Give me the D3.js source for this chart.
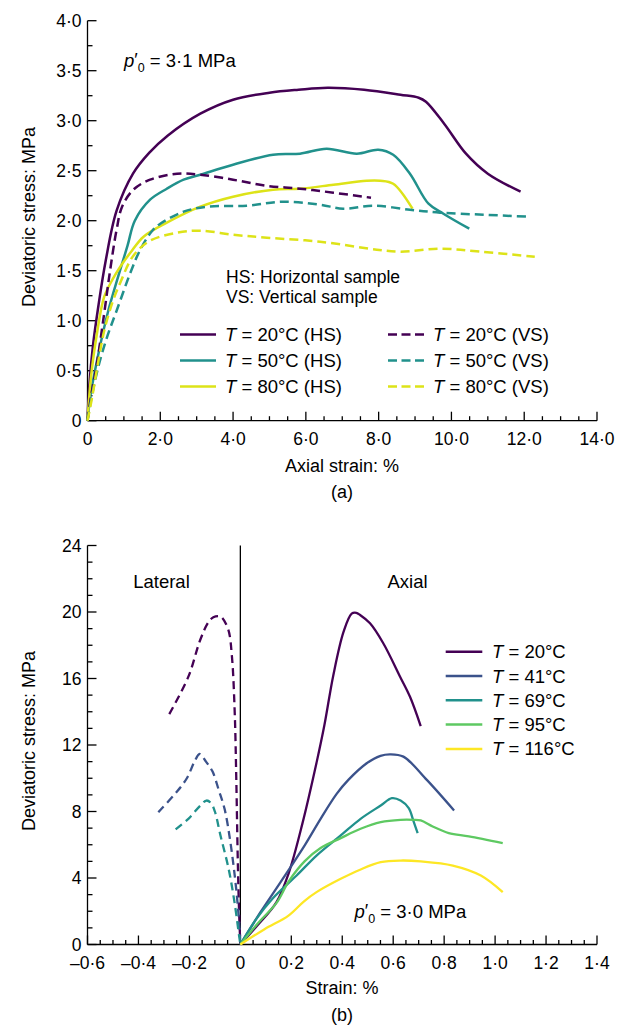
<!DOCTYPE html>
<html>
<head>
<meta charset="utf-8">
<script src="https://cdn.jsdelivr.net/npm/d3@7"></script>
<style>
  html, body { margin: 0; padding: 0; background: #fff; }
  svg { display: block; font-family: "Liberation Sans", Arial, Helvetica, sans-serif; }
</style>
</head>
<body>
<svg id="chart" width="629" height="1028"></svg>
<script>
// ---- Panel (a): deviatoric stress vs axial strain, p'0 = 3.1 MPa ----
const aXTicks = [0, 2, 4, 6, 8, 10, 12, 14];
const aYTicks = [0, 0.5, 1, 1.5, 2, 2.5, 3, 3.5, 4];

const hs20 = [[0,0],[0.05,0.35],[0.15,0.75],[0.3,1.15],[0.5,1.6],[0.8,2.1],[1.25,2.47],[1.7,2.68],[2.2,2.85],[3.1,3.07],[4.0,3.21],[5.0,3.28],[5.8,3.31],[6.6,3.33],[7.6,3.31],[8.6,3.26],[9.1,3.23],[9.3,3.19],[9.8,2.97],[10.4,2.67],[11.0,2.47],[11.9,2.29]];
const hs50 = [[0,0],[0.08,0.25],[0.3,0.67],[0.55,1.07],[0.85,1.45],[1.1,1.75],[1.3,2.0],[1.72,2.21],[2.18,2.32],[2.64,2.41],[3.1,2.46],[4.0,2.56],[5.1,2.66],[5.84,2.67],[6.57,2.72],[7.4,2.67],[7.99,2.71],[8.4,2.66],[8.86,2.47],[9.37,2.17],[9.78,2.07],[10.49,1.92]];
const hs80 = [[0,0],[0.04,0.2],[0.1,0.45],[0.25,0.85],[0.46,1.24],[0.7,1.42],[0.9,1.54],[1.22,1.7],[1.54,1.84],[2.18,1.98],[3.1,2.14],[4.0,2.24],[5.1,2.31],[5.84,2.32],[6.76,2.36],[7.67,2.40],[8.04,2.40],[8.4,2.37],[8.93,2.12]];
const vs20 = [[0,0],[0.1,0.25],[0.25,0.55],[0.45,1.05],[0.62,1.5],[0.8,1.91],[0.95,2.14],[1.26,2.31],[1.72,2.41],[2.46,2.47],[3.1,2.46],[4.0,2.41],[4.9,2.35],[5.84,2.32],[6.76,2.28],[7.79,2.23]];
const vs50 = [[0,0],[0.12,0.25],[0.32,0.57],[0.55,0.85],[0.8,1.1],[1.2,1.5],[1.45,1.71],[1.78,1.9],[2.0,1.97],[2.64,2.09],[3.28,2.14],[4.38,2.15],[5.38,2.19],[6.39,2.16],[7.03,2.12],[7.85,2.15],[8.86,2.11],[9.69,2.08],[10.88,2.06],[12.12,2.04]];
const vs80 = [[0,0],[0.13,0.24],[0.3,0.6],[0.46,0.9],[0.7,1.2],[0.9,1.38],[1.26,1.65],[1.72,1.8],[2.46,1.88],[3.1,1.9],[4.0,1.86],[4.93,1.83],[6.39,1.79],[7.95,1.71],[8.6,1.69],[9.71,1.72],[10.8,1.69],[12.29,1.64]];

const aSeries = [
  { temp: "20", tag: "HS", data: hs20, color: "#440154", dashed: false },
  { temp: "50", tag: "HS", data: hs50, color: "#21918c", dashed: false },
  { temp: "80", tag: "HS", data: hs80, color: "#dde318", dashed: false },
  { temp: "20", tag: "VS", data: vs20, color: "#440154", dashed: true },
  { temp: "50", tag: "VS", data: vs50, color: "#21918c", dashed: true },
  { temp: "80", tag: "VS", data: vs80, color: "#dde318", dashed: true }
];

// ---- Panel (b): lateral and axial strain, p'0 = 3.0 MPa ----
const bXTicks = [-0.6, -0.4, -0.2, 0, 0.2, 0.4, 0.6, 0.8, 1.0, 1.2, 1.4];
const bYTicks = [0, 4, 8, 12, 16, 20, 24];

const lat20 = [[-0.279,13.86],[-0.204,16.11],[-0.158,18.3],[-0.125,19.4],[-0.106,19.68],[-0.085,19.75],[-0.073,19.68],[-0.047,18.92],[-0.033,17.31],[-0.022,13.9],[-0.016,10],[-0.01,5],[-0.005,2],[0,0]];
const lat41 = [[-0.322,7.96],[-0.251,9.16],[-0.21,10.0],[-0.18,11.0],[-0.16,11.46],[-0.135,11.0],[-0.109,10.4],[-0.085,9.3],[-0.062,8.16],[-0.039,6.15],[-0.015,3.15],[-0.002,0.7],[0,0]];
const lat69 = [[-0.254,6.92],[-0.204,7.56],[-0.157,8.36],[-0.133,8.66],[-0.115,8.5],[-0.1,8.0],[-0.078,6.56],[-0.046,4.55],[-0.023,2.55],[-0.005,0.54],[0,0]];
const ax20 = [[0,0],[0.07,1.2],[0.142,2.55],[0.19,4.3],[0.244,7.3],[0.3,11.0],[0.33,13.2],[0.365,16.2],[0.405,18.8],[0.437,19.9],[0.455,19.95],[0.47,19.82],[0.509,19.32],[0.561,18.12],[0.627,16.11],[0.666,14.9],[0.708,13.14]];
const ax41 = [[0,0],[0.079,1.94],[0.158,3.75],[0.252,5.95],[0.315,7.56],[0.378,9.06],[0.424,9.9],[0.496,10.9],[0.55,11.35],[0.588,11.44],[0.64,11.3],[0.732,9.9],[0.839,8.06]];
const ax69 = [[0,0],[0.063,1.54],[0.126,2.75],[0.221,4.15],[0.299,5.35],[0.394,6.56],[0.472,7.56],[0.551,8.36],[0.595,8.8],[0.629,8.66],[0.661,8.2],[0.68,7.4],[0.696,6.7]];
const ax95 = [[0,0],[0.07,1.3],[0.142,2.5],[0.19,3.8],[0.252,5.0],[0.315,5.8],[0.394,6.4],[0.472,6.96],[0.551,7.36],[0.629,7.5],[0.68,7.5],[0.708,7.46],[0.755,7.1],[0.818,6.7],[0.897,6.5],[1.03,6.1]];
const ax116 = [[0,0],[0.095,0.92],[0.189,1.74],[0.25,2.6],[0.299,3.15],[0.394,3.95],[0.47,4.5],[0.551,4.95],[0.629,5.05],[0.708,5.0],[0.834,4.75],[0.944,4.15],[1.03,3.15]];

const bSeries = [
  { temp: "20", axial: ax20, lateral: lat20, color: "#440154" },
  { temp: "41", axial: ax41, lateral: lat41, color: "#3b528b" },
  { temp: "69", axial: ax69, lateral: lat69, color: "#21918c" },
  { temp: "95", axial: ax95, lateral: null, color: "#5ec962" },
  { temp: "116", axial: ax116, lateral: null, color: "#fde725" }
];

const svg = d3.select("#chart");
const fmtDot = d => d === 0 ? "0" : (d < 0 ? "\u2013" : "") + Math.abs(d).toFixed(1).replace(".", "\u00b7");
const TICK_FONT = 17.5;
const TEXT_FONT = 18.5;

function drawAxes(g, x, y, xTicks, xMinor, yTicks, yMinor, xFmt, yFmt) {
  const x0 = x.range()[0], x1 = x.range()[1];
  const y0 = y.range()[0], y1 = y.range()[1];
  const ax = g.append("g").attr("stroke", "#000").attr("stroke-width", 1.3);
  ax.append("line").attr("x1", x0).attr("x2", x1).attr("y1", y0).attr("y2", y0);
  ax.append("line").attr("x1", x0).attr("x2", x0).attr("y1", y0).attr("y2", y1);
  xMinor.forEach(v => ax.append("line").attr("x1", x(v)).attr("x2", x(v)).attr("y1", y0).attr("y2", y0 - 4.5));
  xTicks.forEach(v => ax.append("line").attr("x1", x(v)).attr("x2", x(v)).attr("y1", y0).attr("y2", y0 - 9));
  yMinor.forEach(v => ax.append("line").attr("x1", x0).attr("x2", x0 + 5).attr("y1", y(v)).attr("y2", y(v)));
  yTicks.forEach(v => ax.append("line").attr("x1", x0).attr("x2", x0 + 9).attr("y1", y(v)).attr("y2", y(v)));

  g.append("g").selectAll("text").data(xTicks).join("text")
    .attr("x", d => x(d)).attr("y", y0 + 24.5)
    .attr("text-anchor", "middle").attr("font-size", TICK_FONT).text(xFmt);
  g.append("g").selectAll("text").data(yTicks).join("text")
    .attr("x", x0 - 6).attr("y", d => y(d) + 6.3)
    .attr("text-anchor", "end").attr("font-size", TICK_FONT).text(yFmt);
}

function pLabel(g, px, py, value) {
  const t = g.append("text").attr("x", px).attr("y", py).attr("font-size", TEXT_FONT);
  t.append("tspan").attr("font-style", "italic").text("p");
  t.append("tspan").attr("dy", -1).text("\u2032");
  t.append("tspan").attr("dy", 6).attr("font-size", 12.5).text("0");
  t.append("tspan").attr("dy", -5).text(" = " + value + " MPa");
}

// ---------- Panel (a) ----------
{
  const x = d3.scaleLinear().domain([0, 14]).range([87.5, 597]);
  const y = d3.scaleLinear().domain([0, 4]).range([420.7, 20.7]);
  const g = svg.append("g");
  const xMinor = d3.range(0, 14.01, 0.5).filter(v => !aXTicks.includes(v));
  const yMinor = d3.range(0, 4.01, 0.25).filter(v => !aYTicks.includes(v));
  drawAxes(g, x, y, aXTicks, xMinor, aYTicks, yMinor, fmtDot, fmtDot);

  const line = d3.line().x(d => x(d[0])).y(d => y(d[1])).curve(d3.curveCatmullRom.alpha(0.5));
  g.append("g").selectAll("path").data(aSeries).join("path")
    .attr("d", d => line(d.data))
    .attr("fill", "none")
    .attr("stroke", d => d.color)
    .attr("stroke-width", 2.5)
    .attr("stroke-dasharray", d => d.dashed ? "9,5" : null);

  pLabel(g, 124, 67, "3\u00b71");

  g.append("text").attr("x", 226).attr("y", 282.5).attr("font-size", 17.5).text("HS: Horizontal sample");
  g.append("text").attr("x", 226).attr("y", 302.5).attr("font-size", 17.5).text("VS: Vertical sample");

  // legend: solid column (HS) then dashed column (VS)
  const legend = g.append("g");
  aSeries.forEach((s, i) => {
    const col = s.dashed ? 1 : 0;
    const row = i % 3;
    const lx = col ? 388 : 180;
    const ly = 334.5 + row * 26;
    legend.append("line").attr("x1", lx).attr("x2", lx + 36).attr("y1", ly).attr("y2", ly)
      .attr("stroke", s.color).attr("stroke-width", 2.5)
      .attr("stroke-dasharray", s.dashed ? "9,4.5" : null);
    const t = legend.append("text").attr("x", lx + 45).attr("y", ly + 6.5).attr("font-size", TEXT_FONT);
    t.append("tspan").attr("font-style", "italic").text("T");
    t.append("tspan").text(" = " + s.temp + "\u00b0C (" + s.tag + ")");
  });

  g.append("text").attr("transform", "translate(35,217) rotate(-90)")
    .attr("text-anchor", "middle").attr("font-size", 18).text("Deviatoric stress: MPa");
  g.append("text").attr("x", 342).attr("y", 472).attr("text-anchor", "middle")
    .attr("font-size", 18).text("Axial strain: %");
  g.append("text").attr("x", 342).attr("y", 498).attr("text-anchor", "middle")
    .attr("font-size", 18).text("(a)");
}

// ---------- Panel (b) ----------
{
  const x = d3.scaleLinear().domain([-0.6, 1.4]).range([87.5, 597]);
  const y = d3.scaleLinear().domain([0, 24]).range([944.5, 545.5]);
  const g = svg.append("g");
  const xMinor = d3.range(-12, 29).map(i => +(i * 0.05).toFixed(2)).filter(v => !bXTicks.some(t => Math.abs(t - v) < 1e-6));
  const yMinor = d3.range(0, 25).filter(v => !bYTicks.includes(v));
  drawAxes(g, x, y, bXTicks, xMinor, bYTicks, yMinor, fmtDot, d => String(d));

  // zero-strain divider between lateral and axial
  g.append("line").attr("x1", x(0)).attr("x2", x(0)).attr("y1", y(0)).attr("y2", y(24))
    .attr("stroke", "#000").attr("stroke-width", 1.3);

  const line = d3.line().x(d => x(d[0])).y(d => y(d[1])).curve(d3.curveCatmullRom.alpha(0.5));
  g.append("g").selectAll("path").data(bSeries.filter(s => s.lateral)).join("path")
    .attr("d", d => line(d.lateral))
    .attr("fill", "none").attr("stroke", d => d.color)
    .attr("stroke-width", 2.3).attr("stroke-dasharray", "8,5");
  g.append("g").selectAll("path").data(bSeries).join("path")
    .attr("d", d => line(d.axial))
    .attr("fill", "none").attr("stroke", d => d.color)
    .attr("stroke-width", 2.3);

  g.append("text").attr("x", 161.5).attr("y", 588).attr("text-anchor", "middle")
    .attr("font-size", TEXT_FONT).text("Lateral");
  g.append("text").attr("x", 407.5).attr("y", 588).attr("text-anchor", "middle")
    .attr("font-size", TEXT_FONT).text("Axial");

  const legend = g.append("g");
  bSeries.forEach((s, i) => {
    const ly = 651.7 + i * 24.3;
    legend.append("line").attr("x1", 445.7).attr("x2", 482.3).attr("y1", ly).attr("y2", ly)
      .attr("stroke", s.color).attr("stroke-width", 2.5);
    const t = legend.append("text").attr("x", 492).attr("y", ly + 6.5).attr("font-size", TEXT_FONT);
    t.append("tspan").attr("font-style", "italic").text("T");
    t.append("tspan").text(" = " + s.temp + "\u00b0C");
  });

  pLabel(g, 354.5, 918, "3\u00b70");

  g.append("text").attr("transform", "translate(35,741) rotate(-90)")
    .attr("text-anchor", "middle").attr("font-size", 18).text("Deviatoric stress: MPa");
  g.append("text").attr("x", 342).attr("y", 994).attr("text-anchor", "middle")
    .attr("font-size", 18).text("Strain: %");
  g.append("text").attr("x", 342).attr("y", 1020.5).attr("text-anchor", "middle")
    .attr("font-size", 18).text("(b)");
}
</script>
</body>
</html>
